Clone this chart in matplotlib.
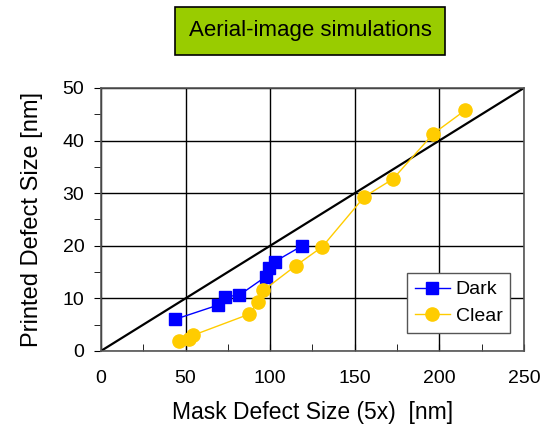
import numpy as np
import matplotlib
matplotlib.use("Agg")
import matplotlib.pyplot as plt
from matplotlib.ticker import MultipleLocator

plt.rcParams['font.family'] = ['Liberation Sans', 'DejaVu Sans']

# data
dark_x = [43.7, 69.0, 73.3, 81.7, 97.3, 99.5, 102.8, 119.0]
dark_y = [6.0, 8.7, 10.3, 10.6, 14.1, 15.8, 17.0, 20.0]

clear_x = [45.9, 52.2, 54.6, 87.7, 92.6, 95.9, 115.1, 130.8, 155.6, 172.6, 196.4, 215.4]
clear_y = [1.8, 2.3, 3.0, 7.0, 9.3, 11.5, 16.2, 19.8, 29.3, 32.7, 41.3, 45.8]

ref_x = [0, 250]
ref_y = [0, 50]

fig = plt.figure(figsize=(5.43, 4.29), dpi=100)
ax = fig.add_axes([0.186, 0.182, 0.779, 0.613])

ax.set_xlim(0, 250)
ax.set_ylim(0, 50)
ax.xaxis.set_major_locator(MultipleLocator(50))
ax.xaxis.set_minor_locator(MultipleLocator(25))
ax.yaxis.set_major_locator(MultipleLocator(10))
ax.yaxis.set_minor_locator(MultipleLocator(5))
ax.grid(True, which='major', color='black', linewidth=1.0, zorder=0)
ax.set_axisbelow(True)

for s in ax.spines.values():
    s.set_color('#555555')
    s.set_linewidth(1.2)

ax.tick_params(axis='x', which='both', direction='in', length=5, labelsize=14, pad=14, color='black')
ax.tick_params(axis='y', which='both', direction='out', length=5, labelsize=14, pad=7, color='black')

ax.plot(ref_x, ref_y, color='black', linewidth=1.6, zorder=2)
ax.plot(dark_x, dark_y, color='#0000FF', linewidth=1.0, marker='s', markersize=9,
        label='Dark', zorder=3)
ax.plot(clear_x, clear_y, color='#FFCC00', linewidth=1.0, marker='o', markersize=9.5,
        label='Clear', zorder=3)

leg = ax.legend(loc='lower right', bbox_to_anchor=(0.968, 0.07), fontsize=14,
                frameon=True, fancybox=False, edgecolor='#555555', framealpha=1,
                handlelength=1.8, handletextpad=0.3, borderpad=0.4, labelspacing=0.45,
                borderaxespad=0)
leg.get_frame().set_linewidth(1.0)

ax.set_xlabel('Mask Defect Size (5x)  [nm]', fontsize=16.5, labelpad=10)
ax.set_ylabel('Printed Defect Size [nm]', fontsize=17, labelpad=14)

fig.text(0.571, 0.928, 'Aerial-image simulations', fontsize=16, ha='center', va='center',
         bbox=dict(boxstyle='square,pad=0.6', facecolor='#99CC00', edgecolor='black', linewidth=1.2))

fig.savefig('out.png', dpi=100)
